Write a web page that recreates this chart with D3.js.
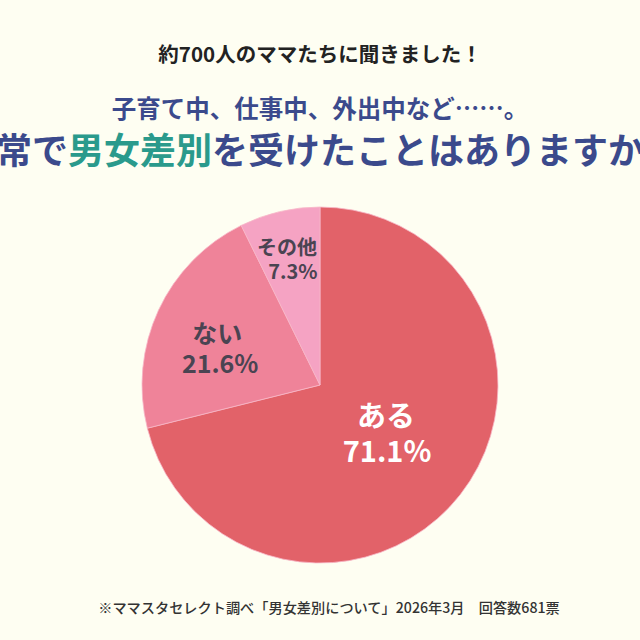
<!DOCTYPE html>
<html><head><meta charset="utf-8">
<script src="https://cdn.jsdelivr.net/npm/d3@7"></script>
<style>html,body{margin:0;padding:0;background:#fefef2;}svg{display:block;}</style>
</head><body>
<script>
const categories = ["ある", "ない", "その他"];
const values = [71.1, 21.6, 7.3];
const labels = ["71.1%", "21.6%", "7.3%"];
const colors = ["#e26269", "#ef8399", "#f5a3c3"];

const W = 640, H = 640;
const svg = d3.select("body").append("svg").attr("width", W).attr("height", H);
svg.append("rect").attr("width", W).attr("height", H).attr("fill", "#fefef2");
const font = "'Noto Sans CJK JP', 'Noto Sans', sans-serif";

svg.append("text").attr("x", 320).attr("y", 62).attr("text-anchor", "middle")
  .attr("font-family", font).attr("font-weight", 700).attr("font-size", 20.5)
  .attr("fill", "#222").text("約700人のママたちに聞きました！");

svg.append("text").attr("x", 320).attr("y", 118).attr("text-anchor", "middle")
  .attr("font-family", font).attr("font-weight", 700).attr("font-size", 24.5)
  .attr("fill", "#3b4a8c").text("子育て中、仕事中、外出中など……。");

const t = svg.append("text").attr("x", 320).attr("y", 164).attr("text-anchor", "middle")
  .attr("font-family", font).attr("font-weight", 700).attr("font-size", 36)
  .attr("fill", "#3b4a8c");
t.append("tspan").text("日常で");
t.append("tspan").attr("fill", "#2a9a8c").text("男女差別");
t.append("tspan").text("を受けたことはありますか？");

const cx = 320, cy = 385, R = 178;
const pie = d3.pie().sort(null).value(d => d)(values);
const arc = d3.arc().innerRadius(0).outerRadius(R);
const g = svg.append("g").attr("transform", `translate(${cx},${cy})`);
g.selectAll("path").data(pie).join("path")
  .attr("d", arc).attr("fill", (d, i) => colors[i])
  .attr("stroke", "#f7b8c8").attr("stroke-width", 0.8);

// label layout: radius along slice bisector, plus small nudge
const labelRadius = [80, 110, 128];
const nudges = [[3, -7], [-3, 4], [-4, -5]];
const textColors = ["#ffffff", "#4a4452", "#4a4452"];
const sizes = [29, 25, 20];
pie.forEach((d, i) => {
  const a = (d.startAngle + d.endAngle) / 2;
  const r = labelRadius[i];
  const x = Math.sin(a) * r + nudges[i][0], y = -Math.cos(a) * r + nudges[i][1];
  const lg = g.append("g").attr("transform", `translate(${x},${y})`);
  lg.append("text").attr("text-anchor", "middle").attr("y", 0)
    .attr("font-family", font).attr("font-weight", 700).attr("font-size", sizes[i])
    .attr("fill", textColors[i]).text(categories[i]);
  lg.append("text").attr("text-anchor", "middle").attr("y", sizes[i] * 1.2).attr("x", i === 1 ? 3 : (i === 2 ? 6 : 1))
    .attr("font-family", font).attr("font-weight", 700).attr("font-size", sizes[i])
    .attr("fill", textColors[i]).text(labels[i]);
});

svg.append("text").attr("x", 329).attr("y", 613).attr("text-anchor", "middle")
  .attr("font-family", font).attr("font-weight", 500).attr("font-size", 14.2)
  .attr("fill", "#333").text("※ママスタセレクト調べ「男女差別について」2026年3月　回答数681票");
</script>
</body></html>
